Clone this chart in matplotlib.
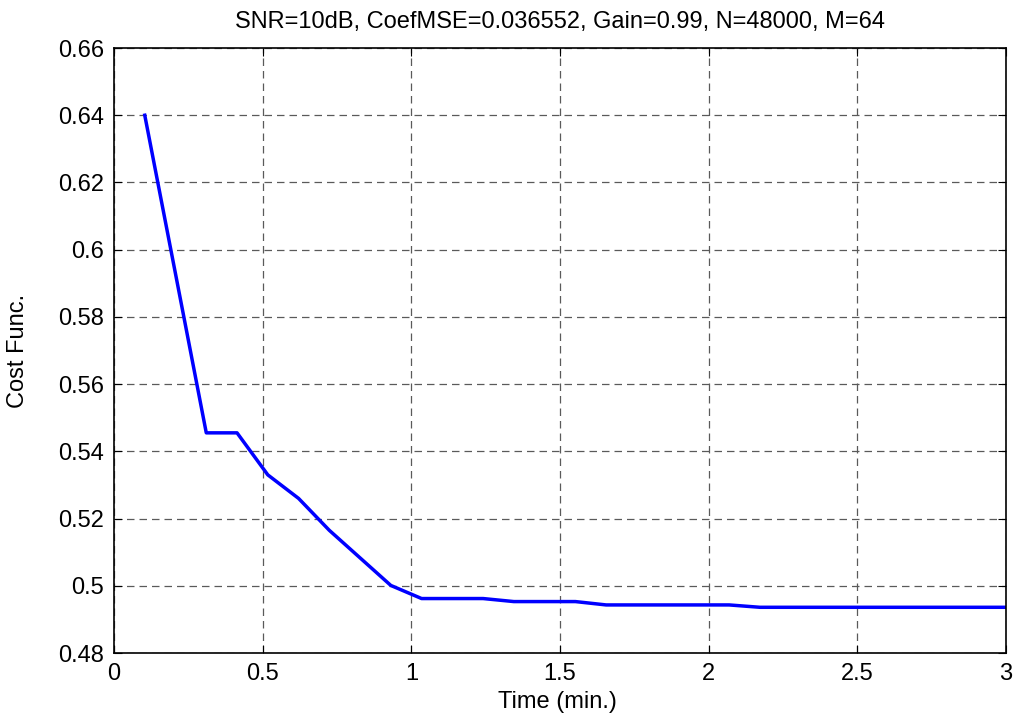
import numpy as np
import matplotlib.pyplot as plt

plt.rcParams['font.family'] = ['Liberation Sans', 'DejaVu Sans']

# time points every 3/29 min
k = np.arange(1, 30)
t = k * 3.0 / 29
cost = [0.640, 0.5928, 0.5455, 0.5455, 0.533, 0.526, 0.5165, 0.5083, 0.5001,
        0.4962, 0.4962, 0.4962, 0.4953, 0.4953, 0.4953, 0.4943, 0.4943,
        0.4943, 0.4943, 0.4943, 0.4936, 0.4936, 0.4936, 0.4936, 0.4936,
        0.4936, 0.4936, 0.4936, 0.4936]
# extend flat to the end of the axis
t = np.append(t, 3.0)
cost = cost + [0.4936]

W, H = 1017, 715
fig = plt.figure(figsize=(W / 100, H / 100), dpi=100)
ax = fig.add_axes([114 / W, 1 - 653 / H, (1006 - 114) / W, (653 - 48) / H])
ax.plot(t, cost, color='#0000ff', lw=2.5)

ax.set_xlim(0, 3)
ax.set_ylim(0.48, 0.66)
ax.set_xticks(np.arange(0, 3.01, 0.5))
ax.set_xticklabels(['0', '0.5', '1', '1.5', '2', '2.5', '3'])
ax.set_yticks(np.arange(0.48, 0.661, 0.02))
ax.set_yticklabels(['0.48', '0.5', '0.52', '0.54', '0.56', '0.58', '0.6',
                    '0.62', '0.64', '0.66'])
ax.grid(True, color='#5a5a5a', linestyle=(0, (6, 4)), linewidth=0.9)
ax.tick_params(direction='in', top=True, right=True, length=6, labelsize=17)
ax.tick_params(axis='x', pad=7)
ax.tick_params(axis='y', pad=7)
for s in ax.spines.values():
    s.set_linewidth(1.2)

fig.text(0.5 * (114 + 1006) / W, 1 - 28 / H,
         'SNR=10dB, CoefMSE=0.036552, Gain=0.99, N=48000, M=64',
         fontsize=17, ha='center', va='baseline')
fig.text(557 / W, 1 - 708 / H, 'Time (min.)', fontsize=17,
         ha='center', va='baseline')
fig.text(18 / W, 1 - 351 / H, 'Cost Func.', fontsize=17, rotation=90,
         ha='center', va='center')

fig.savefig('out.png', dpi=100)
